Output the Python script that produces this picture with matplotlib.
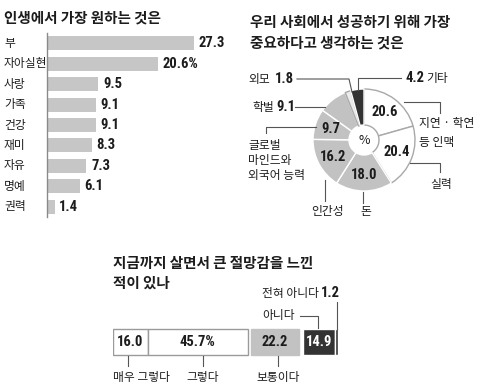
import os
import numpy as np
import matplotlib
matplotlib.use('Agg')
import matplotlib.pyplot as plt
from matplotlib import font_manager as fm

KR = 'Noto Sans CJK KR'
plt.rcParams['font.family'] = [KR, 'DejaVu Sans']
INK = '#1c1c1c'

# --- data ---
want_labels = ['부', '자아실현', '사랑', '가족', '건강', '재미', '자유', '명예', '권력']
want_values = [27.3, 20.6, 9.5, 9.1, 9.1, 8.3, 7.3, 6.1, 1.4]

success_labels = ['지연·학연 등 인맥', '실력', '돈', '인간성', '글로벌 마인드와 외국어 능력', '학벌', '외모', '기타']
success_values = [20.6, 20.4, 18.0, 16.2, 9.7, 9.1, 1.8, 4.2]

despair_labels = ['매우 그렇다', '그렇다', '보통이다', '아니다', '전혀 아니다']
despair_values = [16.0, 45.7, 22.2, 14.9, 1.2]

W, H = 480, 392


def pick_font(names):
    files = {os.path.basename(f.fname): f.fname for f in fm.fontManager.ttflist}
    for n in names:
        if n in files:
            return fm.FontProperties(fname=files[n])
    return fm.FontProperties(family='DejaVu Sans', weight='bold')


# condensed bold face for the figures, if one is around
NUMF = pick_font(['LiberationSansNarrow-Bold.ttf', 'RobotoCondensed-Bold.ttf',
                  'DejaVuSansCondensed-Bold.ttf', 'Roboto-Bold.ttf'])


def num(ax, x, y, s, size=10.5, **kw):
    p = NUMF.copy()
    p.set_size(size)
    kw.setdefault('color', INK)
    return ax.text(x, y, s, fontproperties=p, **kw)


def px_rect(x, y, w, h):
    return [x / W, 1 - (y + h) / H, w / W, h / H]


fig = plt.figure(figsize=(4.8, 3.92), dpi=100)
fig.patch.set_facecolor('white')

# ---------- left: horizontal bars ----------
ax1 = fig.add_axes(px_rect(47, 33, 172, 184))
n = len(want_values)
ax1.barh(range(n), want_values, height=0.68, color='#c6c6c6')
ax1.set_ylim(n - 0.5, -0.5)
ax1.set_xlim(0, 32)
for s in ['top', 'right', 'bottom']:
    ax1.spines[s].set_visible(False)
ax1.spines['left'].set_color('#8a8a8a')
ax1.spines['left'].set_linewidth(1.0)
ax1.set_xticks([])
ax1.set_yticks([])
for i, (lab, v) in enumerate(zip(want_labels, want_values)):
    ax1.annotate(lab, xy=(0, i), xytext=(-43, 0), textcoords='offset pixels',
                 ha='left', va='center', fontsize=8.5, color=INK)
    txt = f'{v}%' if i == 1 else f'{v}'
    num(ax1, v + 0.9, i, txt, ha='left', va='center')

# ---------- right: donut ----------
ax2 = fig.add_axes(px_rect(264, 40, 200, 200))
cols = ['white', 'white', '#c2c2c2', '#c2c2c2', '#c2c2c2', '#c2c2c2', '#ececec', '#333333']
edges = ['#a8a8a8', '#a8a8a8', 'white', 'white', 'white', 'white', '#a8a8a8', 'white']
wedges, _ = ax2.pie(success_values, colors=cols, startangle=90, counterclock=False,
                    radius=51, wedgeprops=dict(width=36, linewidth=1.0))
for w, ec in zip(wedges, edges):
    w.set_edgecolor(ec)
ax2.set_xlim(-100, 100)
ax2.set_ylim(-100, 100)
ax2.set_aspect('equal')
ax2.axis('off')
ax2.text(0, 0, '%', ha='center', va='center', fontsize=9, color=INK)
for k, w in enumerate(wedges[:5]):
    mid = np.deg2rad((w.theta1 + w.theta2) / 2)
    r = 35
    num(ax2, r * np.cos(mid), r * np.sin(mid), f'{success_values[k]:.1f}',
        ha='center', va='center')

# ---------- bottom: stacked bar ----------
ax3 = fig.add_axes(px_rect(113, 320, 229, 44))
gap = 1.5
lefts = [0, 16.0, 61.7 + gap, 83.9 + 2 * gap, 98.8 + 2 * gap]
bcols = ['white', 'white', '#c2c2c2', '#333333', '#333333']
becs = ['#9a9a9a', '#9a9a9a', '#c2c2c2', 'white', 'white']
for l, v, c, e in zip(lefts, despair_values, bcols, becs):
    ax3.barh(0, v, left=l, height=1.18, color=c, edgecolor=e, linewidth=1.0)
ax3.set_xlim(0, 105)
ax3.set_ylim(-1, 1)
ax3.axis('off')
num(ax3, 8, 0, '16.0', ha='center', va='center')
num(ax3, 16 + 45.7 / 2, 0, '45.7%', ha='center', va='center')
num(ax3, lefts[2] + 11.1, 0, '22.2', ha='center', va='center')
num(ax3, lefts[3] + 7.45, 0, '14.9', ha='center', va='center', color='white')

# ---------- overlay for titles, labels and leader lines ----------
ov = fig.add_axes([0, 0, 1, 1])
ov.set_xlim(0, W)
ov.set_ylim(H, 0)
ov.axis('off')
lc = '#555555'
tkw = dict(fontsize=10.5, va='center', color=INK, weight='bold')

ov.text(4, 18, '인생에서 가장 원하는 것은', **tkw)
ov.text(250, 22, '우리 사회에서 성공하기 위해 가장', **tkw)
ov.text(250, 43, '중요하다고 생각하는 것은', **tkw)
ov.text(113, 263, '지금까지 살면서 큰 절망감을 느낀', **tkw)
ov.text(113, 283, '적이 있나', **tkw)

lkw = dict(fontsize=8.5, va='center', color=INK)
# donut outside labels
ov.text(248, 79, '외모', **lkw)
num(ov, 275, 79, '1.8', va='center')
ov.plot([297, 349, 352], [79, 79, 92], color=lc, lw=0.8)
num(ov, 405, 78, '4.2', va='center')
ov.text(426, 78, '기타', **lkw)
ov.plot([401, 358, 358], [78, 78, 90], color=lc, lw=0.8)
ov.text(252, 107, '학벌', **lkw)
num(ov, 276, 107, '9.1', va='center')
ov.plot([295, 325], [107, 107], color=lc, lw=0.8)
ov.plot([316, 266, 266], [127, 127, 133], color=lc, lw=0.8)
ov.text(248, 145, '글로벌', **lkw)
ov.text(248, 160, '마인드와', **lkw)
ov.text(248, 175, '외국어 능력', **lkw)
ov.plot([325, 325], [180, 201], color=lc, lw=0.8)
ov.text(328, 211, '인간성', ha='center', **lkw)
ov.plot([363, 363], [192, 203], color=lc, lw=0.8)
ov.text(366, 211, '돈', ha='center', **lkw)
ov.plot([410, 440, 440], [163, 163, 172], color=lc, lw=0.8)
ov.text(441, 184, '실력', ha='center', **lkw)
ov.plot([404, 440, 440], [102, 102, 113], color=lc, lw=0.8)
ov.text(419, 123, '지연 · 학연', ha='left', **lkw)
ov.text(419, 142, '등 인맥', ha='left', **lkw)

# stacked bar labels
ov.plot([128, 128], [356, 366], color=lc, lw=0.8)
ov.text(113, 377, '매우 그렇다', **lkw)
ov.plot([203, 203], [356, 366], color=lc, lw=0.8)
ov.text(203, 377, '그렇다', ha='center', **lkw)
ov.plot([278, 278], [356, 366], color=lc, lw=0.8)
ov.text(278, 377, '보통이다', ha='center', **lkw)
ov.text(295, 316, '아니다', ha='right', **lkw)
ov.plot([300, 318, 318], [316, 316, 328], color=lc, lw=0.8)
ov.text(319, 293, '전혀 아니다', ha='right', **lkw)
num(ov, 321, 293, '1.2', va='center', ha='left')
ov.plot([337, 337], [302, 330], color=lc, lw=0.8)

fig.savefig('out.png', dpi=100, facecolor='white')
